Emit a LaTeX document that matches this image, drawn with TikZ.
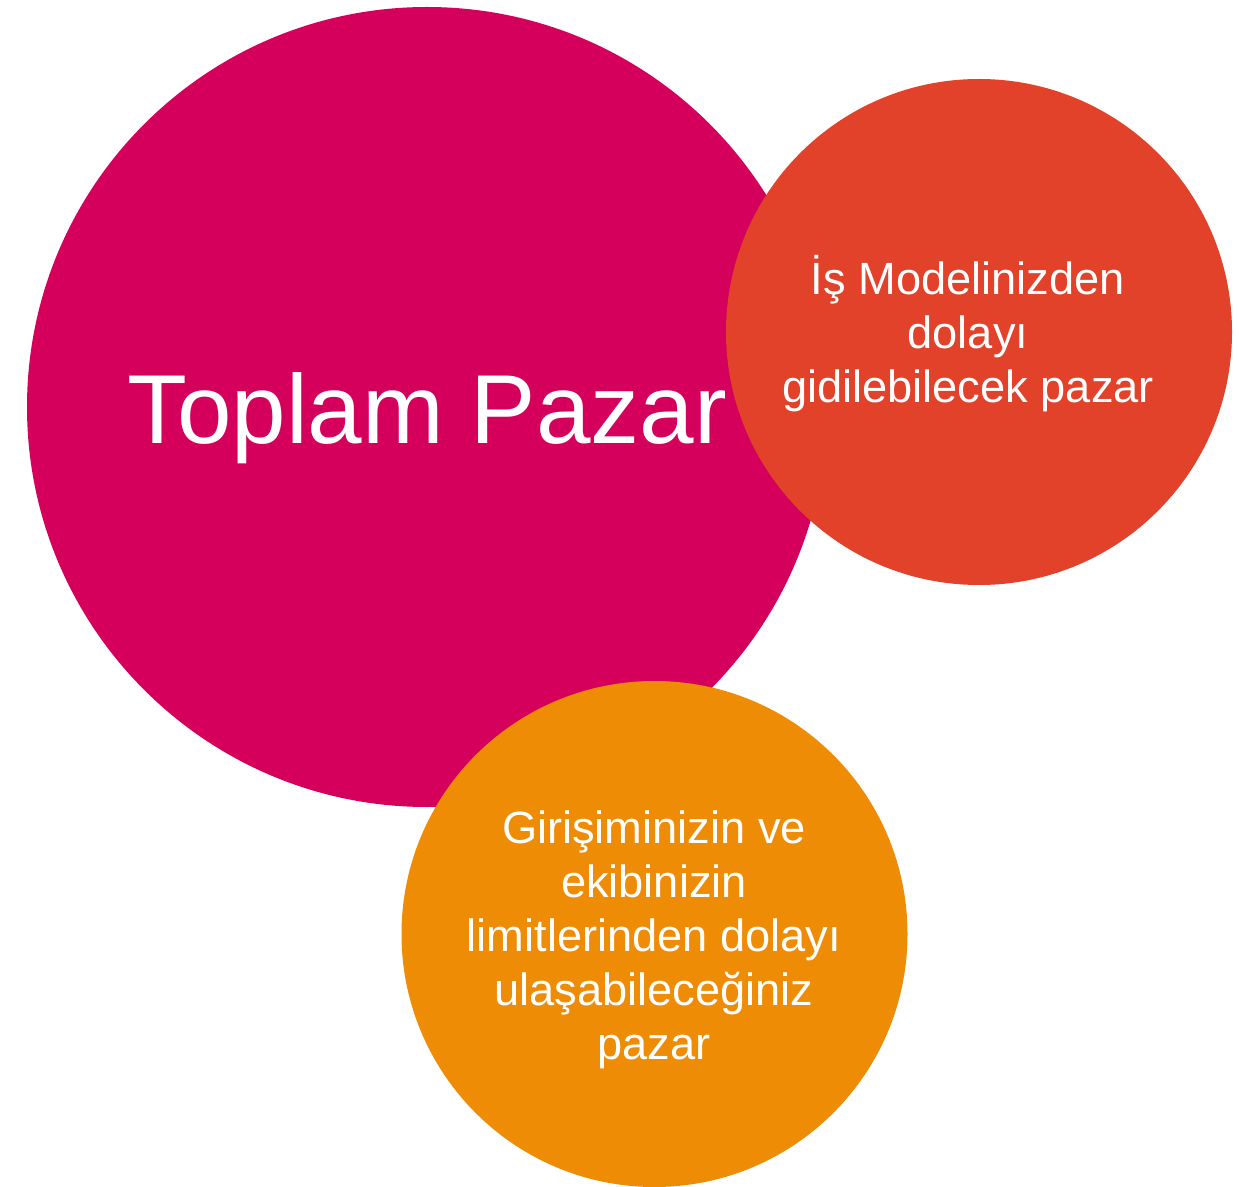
\documentclass[tikz,border=0pt]{standalone}
\usepackage{fontspec}
\setmainfont{Liberation Sans}
\definecolor{totalmag}{RGB}{213,0,92}
\definecolor{modelred}{RGB}{226,65,42}
\definecolor{teamorange}{RGB}{239,140,5}

\begin{document}
\begin{tikzpicture}[x=0.75pt,y=0.75pt,yscale=-1,xscale=1,
	bubble/.style={circle, inner sep=0pt, draw=none},
	bubbletext/.style={text=white, inner sep=0pt, align=center, font=\fontsize{33.9}{40.5}\selectfont}]
	\useasboundingbox (0,0) rectangle (1239,1187);
	
	%Shape: Circle [total market]
	\node [bubble, fill=totalmag, minimum size=600pt] (total) at (427,407) {};
	%Shape: Circle [business model]
	\node [bubble, fill=modelred, minimum size=379.5pt] (model) at (979,332) {};
	%Shape: Circle [team limits]
	\node [bubble, fill=teamorange, minimum size=379.5pt] (team) at (654.5,934) {};
	
	% Text Node
	\node [bubbletext, font=\fontsize{73.5}{88}\selectfont] (totallabel) at (427.5,418) {Toplam Pazar};
	% Text Node
	\node [bubbletext] (modellabel) at (968,333.5) {İş Modelinizden\\dolayı\\gidilebilecek pazar};
	% Text Node
	\node [bubbletext] (teamlabel) at (654,940) {Girişiminizin ve\\ekibinizin\\limitlerinden dolayı\\ulaşabileceğiniz\\pazar};
	
\end{tikzpicture}
\end{document}
